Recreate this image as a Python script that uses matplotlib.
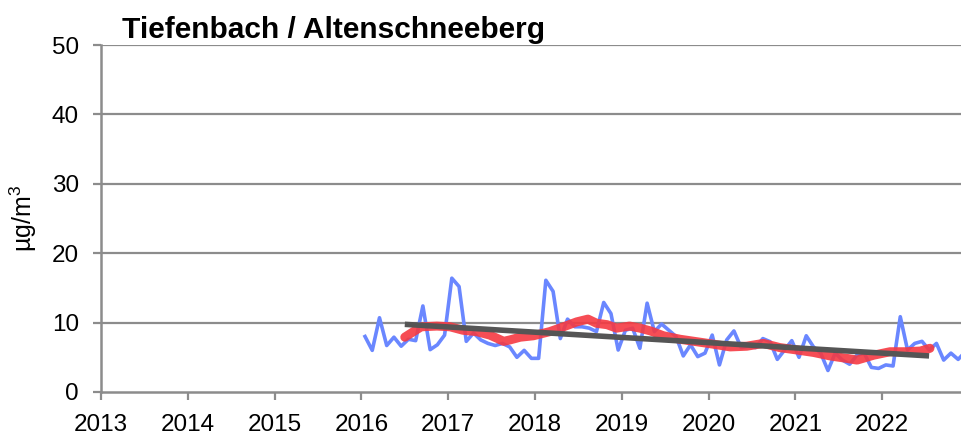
import matplotlib
matplotlib.use("Agg")
import matplotlib.pyplot as plt
import numpy as np

# ---- data ----
title = "Tiefenbach / Altenschneeberg"
ylabel = "µg/m$^{3}$"
year_ticks = [2013, 2014, 2015, 2016, 2017, 2018, 2019, 2020, 2021, 2022]
y_ticks = [0, 10, 20, 30, 40, 50]
start_year = 2016
monthly = [
    8.0, 6.0, 10.7, 6.7, 7.9, 6.6, 7.6, 7.4, 12.4, 6.1, 6.8, 8.2,      # 2016
    16.4, 15.2, 7.3, 8.5, 7.5, 7.0, 6.7, 7.0, 6.5, 5.0, 6.0, 4.85,     # 2017
    4.85, 16.1, 14.5, 7.7, 10.5, 9.4, 9.4, 9.2, 8.7, 12.9, 11.3, 6.05, # 2018
    8.9, 9.2, 6.3, 12.8, 8.7, 9.8, 8.9, 8.0, 5.2, 6.8, 5.1, 5.6,       # 2019
    8.2, 3.9, 7.5, 8.8, 6.4, 6.6, 6.4, 7.7, 7.25, 4.7, 6.05, 7.4,      # 2020
    5.0, 8.1, 6.5, 5.6, 3.1, 5.6, 4.6, 4.0, 5.3, 5.6, 3.55, 3.4,       # 2021
    3.9, 3.75, 10.85, 6.05, 7.0, 7.3, 6.05, 7.0, 4.6, 5.6, 4.7, 5.8,   # 2022
]
smooth_x = [2016.50, 2016.60, 2016.69, 2016.87, 2017.02, 2017.17, 2017.33,
            2017.48, 2017.64, 2017.71, 2017.83, 2017.98, 2018.17, 2018.33,
            2018.48, 2018.61, 2018.71, 2018.83, 2018.94, 2019.09, 2019.21,
            2019.33, 2019.48, 2019.67, 2019.86, 2020.05, 2020.25, 2020.44,
            2020.63, 2020.82, 2021.02, 2021.21, 2021.40, 2021.59, 2021.71,
            2021.90, 2022.09, 2022.28, 2022.44, 2022.55]
smooth_y = [7.9, 8.7, 9.4, 9.5, 9.4, 8.9, 8.7,
            8.2, 7.3, 7.5, 7.9, 8.1, 8.7, 9.4,
            10.1, 10.5, 9.9, 9.7, 9.2, 9.5, 9.2,
            8.8, 8.1, 7.6, 7.25, 6.9, 6.5, 6.6,
            7.0, 6.4, 6.05, 5.7, 5.2, 4.85, 4.6,
            5.3, 5.8, 5.8, 5.9, 6.3]
trend_x = [2016.50, 2022.54]
trend_y = [9.75, 5.2]

# ---- plot ----
plt.rcParams['font.family'] = ['Liberation Sans', 'DejaVu Sans']
plt.rcParams['mathtext.default'] = 'regular'

fig = plt.figure(figsize=(9.61, 4.37), dpi=100)
ax = fig.add_axes([101/961, 1 - 392/437, 1 - 101/961, (392 - 45)/437])

mx = start_year + (np.arange(len(monthly)) + 0.5) / 12
gray = '#8c8c8c'
for yv in y_ticks[1:]:
    ax.axhline(yv, color=gray, lw=1.6, zorder=1)

ax.plot(mx, monthly, color='#6a87ff', lw=2.6, zorder=3, solid_joinstyle='round')
ax.plot(smooth_x, smooth_y, color='#f53a42', lw=6.5, alpha=0.9, zorder=4,
        solid_capstyle='round', solid_joinstyle='round')
ax.plot(trend_x, trend_y, color='#555555', lw=4, zorder=5, solid_capstyle='butt')

ax.set_xlim(2013, 2013 + (961 - 101) / 86.8)
ax.set_ylim(0, 50)
ax.set_xticks(year_ticks)
ax.set_xticklabels([str(y) for y in year_ticks], fontsize=17.5)
ax.set_yticks(y_ticks)
ax.set_yticklabels([str(y) for y in y_ticks], fontsize=17.5)
ax.tick_params(axis='both', direction='out', length=6, width=1.6, color=gray)
ax.tick_params(axis='x', pad=10)
ax.tick_params(axis='y', pad=10)
for s in ['top', 'right']:
    ax.spines[s].set_visible(False)
for s in ['left', 'bottom']:
    ax.spines[s].set_color(gray)
    ax.spines[s].set_linewidth(1.8)
    ax.spines[s].set_zorder(2)

ax.set_ylabel(ylabel, fontsize=18, labelpad=9)
fig.text(122/961, 1 - 38/437, title, fontsize=21.5, fontweight='bold', va='baseline', ha='left')

fig.savefig('out.png', dpi=100)
